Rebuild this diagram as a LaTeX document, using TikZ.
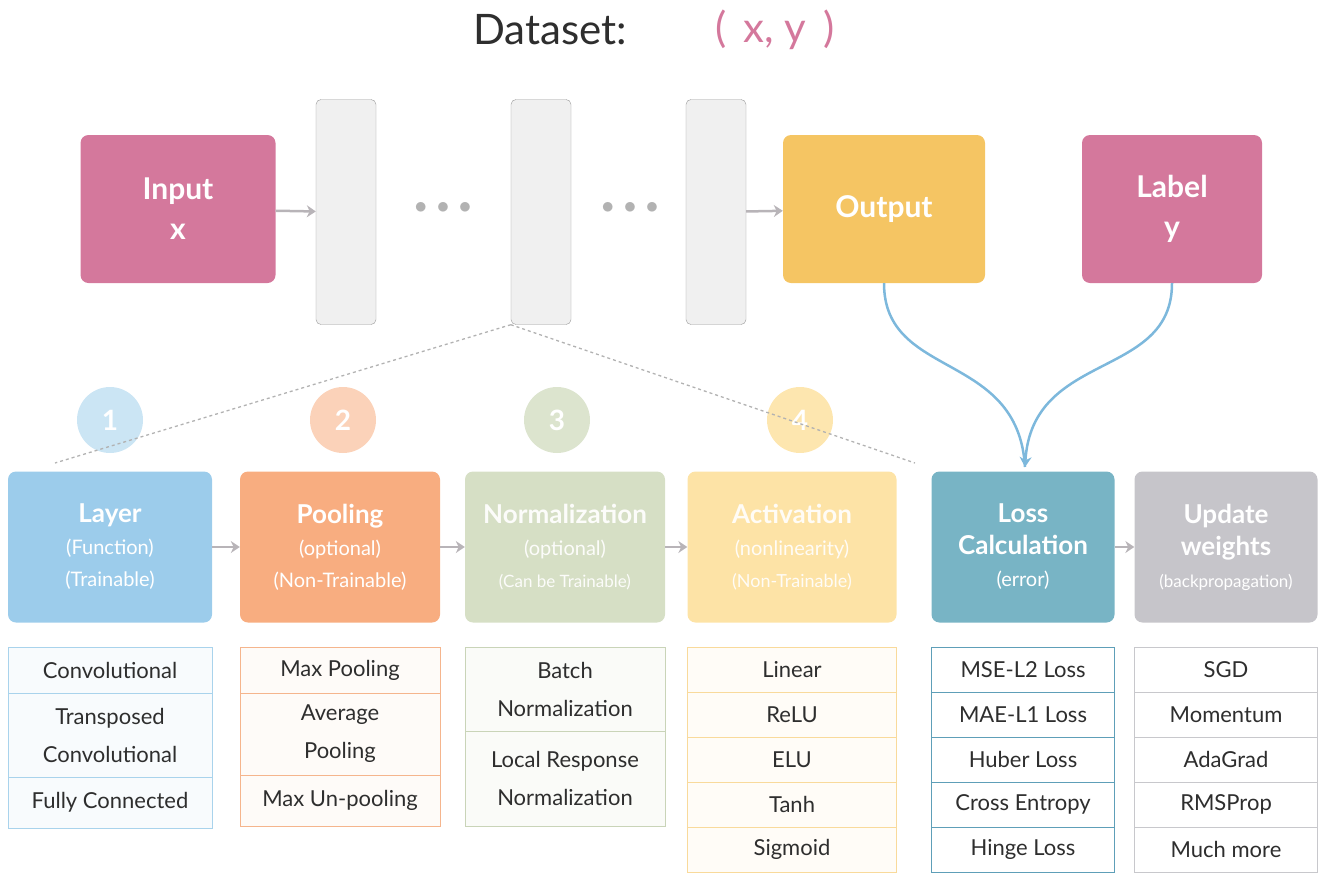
\documentclass[tikz,border=0pt]{standalone}
\usepackage{fontspec}
\setmainfont{Lato}
\usetikzlibrary{arrows.meta,positioning,calc}
\definecolor{pinkB}{HTML}{D4789C}
\definecolor{yellowB}{HTML}{F5C563}
\definecolor{layC}{HTML}{9CCCEB}
\definecolor{poolC}{HTML}{F8AD80}
\definecolor{normC}{HTML}{D6DFC5}
\definecolor{actC}{HTML}{FDE3A6}
\definecolor{lossC}{HTML}{78B4C5}
\definecolor{updC}{HTML}{C6C5CA}
\definecolor{layE}{HTML}{A9D3EC}
\definecolor{poolE}{HTML}{F5B58D}
\definecolor{normE}{HTML}{C9D4B8}
\definecolor{actE}{HTML}{F9DA9B}
\definecolor{lossE}{HTML}{5E9FB8}
\definecolor{updE}{HTML}{C8C8CC}
\definecolor{textD}{HTML}{2E2E2E}
\definecolor{arrG}{HTML}{B8B4B8}
\definecolor{curveC}{HTML}{7DB8DC}
\newcommand{\cattl}{\fontsize{26}{30}\selectfont\bfseries}
\newcommand{\catsub}{\fontsize{20}{30}\selectfont}
\begin{document}
\begin{tikzpicture}[x=1pt,y=-1pt,
	box/.style = {rectangle, rounded corners=8pt, align=center, text=white,
	font=\fontsize{30}{40}\selectfont\bfseries},
	cat/.style = {rectangle, rounded corners=8pt, align=center, text=white,
	minimum width=#1, minimum height=151pt, inner sep=2pt,
	font=\fontsize{20}{32}\selectfont},
	bar/.style = {rectangle, rounded corners=5pt, draw=gray!80, fill=gray!12,
	minimum width=60pt, minimum height=225pt},
	num/.style = {circle, minimum size=66pt, text=white,
	font=\fontsize{28}{30}\selectfont\bfseries},
	row/.style = {rectangle, align=center, text=textD, inner sep=0pt,
	font=\fontsize{22}{38}\selectfont},
	dots/.style = {text=gray!60, font=\fontsize{30}{30}\selectfont},
	flow/.style = {-{Stealth[length=9pt,width=12pt]}, arrG, line width=2.5pt}
]
\useasboundingbox (0,0) rectangle (1325,876);
% title
\node[text=textD, font=\fontsize{42}{46}\selectfont] (ds) at (550,30) {Dataset:};
\node[text=pinkB, font=\fontsize{42}{46}\selectfont] (xy) at (775,30) {(\hspace{0.4em}x, y\hspace{0.4em})};

% top row
\node[box, fill=pinkB, minimum width=195pt, minimum height=148pt] (in) at (178,209) {Input\\x};
\node[bar] (b1) at (346,212) {};
\node[bar] (b2) at (541,212) {};
\node[bar] (b3) at (716,212) {};
\node[box, fill=yellowB, minimum width=202pt, minimum height=148pt] (out) at (884,209) {Output};
\node[box, fill=pinkB, minimum width=180pt, minimum height=148pt] (lab) at (1172,209) {Label\\y};
\node[dots] (d1) at (443,208) {$\bullet\,\bullet\,\bullet$};
\node[dots] (d2) at (630,208) {$\bullet\,\bullet\,\bullet$};
\draw[flow] (in) -- (b1);
\draw[flow] (b3) -- (out);

% numbered circles
\node[num, fill=layE!60] (n1) at (110,420) {1};
\node[num, fill=poolC!55] (n2) at (343,420) {2};
\node[num, fill=normC!85] (n3) at (557,420) {3};
\node[num, fill=actC!90] (n4) at (800,420) {4};

% categories
\node[cat=204pt, fill=layC] (lay) at (110,547)
	{{\cattl Layer}\\(Function)\\(Trainable)};
\node[cat=200pt, fill=poolC] (pool) at (340,547)
	{{\cattl Pooling}\\(optional)\\(Non-Trainable)};
\node[cat=200pt, fill=normC, text=white!92!normC] (norm) at (565,547)
	{{\cattl Normalization}\\(optional)\\{\fontsize{17}{30}\selectfont (Can be Trainable)}};
\node[cat=209pt, fill=actC, text=white!90!actC] (act) at (792,547)
	{{\cattl Activation}\\(nonlinearity)\\{\fontsize{18}{30}\selectfont (Non-Trainable)}};
\node[cat=183pt, fill=lossC] (loss) at (1023,547)
	{{\cattl Loss}\\{\cattl Calculation}\\(error)};
\node[cat=183pt, fill=updC] (upd) at (1226,547)
	{{\cattl Update}\\{\cattl weights}\\{\fontsize{17}{30}\selectfont (backpropagation)}};
\draw[flow, line width=1.8pt] (lay) -- (pool);
\draw[flow, line width=1.8pt] (pool) -- (norm);
\draw[flow, line width=1.8pt] (norm) -- (act);
\draw[flow, line width=1.8pt] (loss) -- (upd);

% dashed zoom lines
\draw[dashed, gray!60, line width=1.3pt] (b2.south west) -- (55,463);
\draw[dashed, gray!60, line width=1.3pt] (b2.south west) -- (915,463);

% loss curves
\coordinate (lin) at (1025,467);
\draw[curveC, line width=2.5pt] (out.south) .. controls (884,380) and (1018,350) .. (lin);
\draw[curveC, line width=2.5pt, -{Stealth[length=10pt,width=12pt]}] (lab.south) .. controls (1172,380) and (1032,350) .. (lin);

% option lists
\foreach \t/\y/\h [count=\i] in {Convolutional/647/46, {Transposed\\Convolutional}/693/84, Fully Connected/777/51}
	\node[row, draw=layE, fill=layE!8, minimum width=204pt, minimum height=\h pt] (l\i) at (110,\y+\h/2) {\t};
\foreach \t/\y/\h [count=\i] in {Max Pooling/647/46, {Average\\Pooling}/693/82, Max Un-pooling/775/51}
	\node[row, draw=poolE, fill=poolE!6, minimum width=200pt, minimum height=\h pt] (p\i) at (340,\y+\h/2) {\t};
\foreach \t/\y/\h [count=\i] in {{Batch\\Normalization}/647/84, {Local Response\\Normalization}/731/95}
	\node[row, draw=normE, fill=normE!10, minimum width=200pt, minimum height=\h pt] (m\i) at (565,\y+\h/2) {\t};
\foreach \t [count=\i] in {Linear, ReLU, ELU, Tanh, Sigmoid}
	\node[row, draw=actE, fill=actE!8, minimum width=209pt, minimum height=45pt] (a\i) at (792,647+45*\i-22.5) {\t};
\foreach \t [count=\i] in {MSE{-}L2 Loss, MAE{-}L1 Loss, Huber Loss, Cross Entropy, Hinge Loss}
	\node[row, draw=lossE, fill=white, minimum width=183pt, minimum height=45pt] (c\i) at (1023,647+45*\i-22.5) {\t};
\foreach \t [count=\i] in {SGD, Momentum, AdaGrad, RMSProp, Much more}
	\node[row, draw=updE, fill=white, minimum width=183pt, minimum height=45pt] (u\i) at (1226,647+45*\i-22.5) {\t};
\end{tikzpicture}
\end{document}
